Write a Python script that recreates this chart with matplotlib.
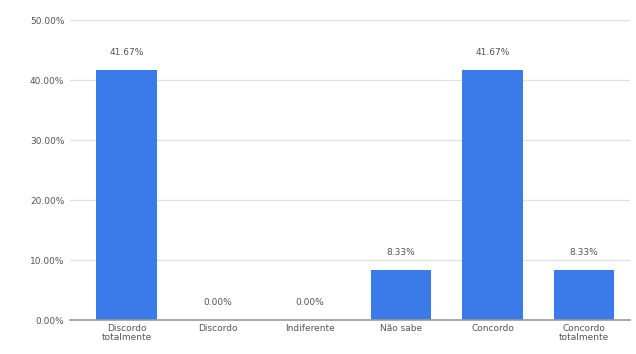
import matplotlib
matplotlib.use('Agg')
import matplotlib.pyplot as plt
from matplotlib.ticker import FuncFormatter

categories = ['Discordo\ntotalmente', 'Discordo', 'Indiferente', 'Não sabe',
              'Concordo', 'Concordo\ntotalmente']
values = [41.67, 0.00, 0.00, 8.33, 41.67, 8.33]
yticks = [0, 10, 20, 30, 40, 50]

fig = plt.figure(figsize=(6.36, 3.54), dpi=100)
ax = fig.add_axes([0.110, 0.096, 0.880, 0.847])

x = range(len(categories))
bars = ax.bar(x, values, width=0.66, color='#3b7be9', zorder=3)

for xi, v in zip(x, values):
    ax.text(xi, v + 2.2, '%.2f%%' % v, ha='center', va='bottom',
            fontsize=6.5, color='#555555')

ax.set_xlim(-0.62, 5.5)
ax.set_ylim(0, 50)
ax.set_yticks(yticks)
ax.yaxis.set_major_formatter(FuncFormatter(lambda v, p: '%.2f%%' % v))
ax.set_xticks(list(x))
ax.set_xticklabels(categories, fontsize=6.5, color='#555555', linespacing=0.95)

ax.tick_params(axis='y', labelsize=6.5, labelcolor='#555555', length=0, pad=4)
ax.tick_params(axis='x', length=0, pad=3)
ax.grid(axis='y', color='#e0e0e0', linewidth=0.9, zorder=0)
for s in ['top', 'right', 'left']:
    ax.spines[s].set_visible(False)
ax.spines['bottom'].set_color('#999999')
ax.spines['bottom'].set_linewidth(1.2)
ax.spines['bottom'].set_zorder(4)

fig.savefig('out.png', dpi=100)
